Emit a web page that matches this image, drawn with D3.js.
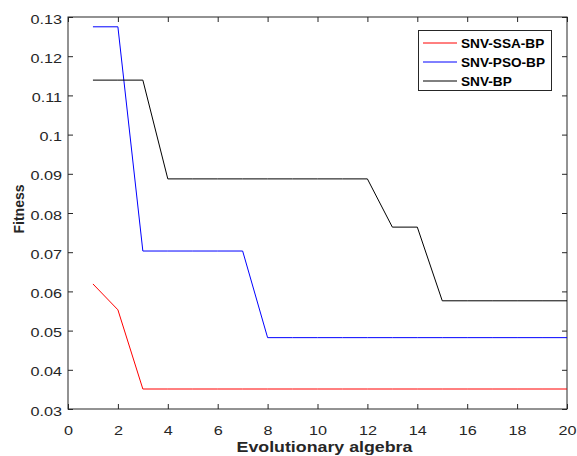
<!DOCTYPE html>
<html><head><meta charset="utf-8">
<script src="https://cdn.jsdelivr.net/npm/d3@7"></script>
<style>body{margin:0;background:#fff;} svg{display:block;}</style>
</head><body>
<svg id="chart" width="577" height="456"></svg>
<script>
const generations = [1,2,3,4,5,6,7,8,9,10,11,12,13,14,15,16,17,18,19,20];
const ssaBP = [0.0619,0.0553,0.0351,0.0351,0.0351,0.0351,0.0351,0.0351,0.0351,0.0351,0.0351,0.0351,0.0351,0.0351,0.0351,0.0351,0.0351,0.0351,0.0351,0.0351];
const psoBP = [0.1275,0.1275,0.0703,0.0703,0.0703,0.0703,0.0703,0.0482,0.0482,0.0482,0.0482,0.0482,0.0482,0.0482,0.0482,0.0482,0.0482,0.0482,0.0482,0.0482];
const bp    = [0.1139,0.1139,0.1139,0.0887,0.0887,0.0887,0.0887,0.0887,0.0887,0.0887,0.0887,0.0887,0.0764,0.0764,0.0576,0.0576,0.0576,0.0576,0.0576,0.0576];
const seriesNames = ["SNV-SSA-BP","SNV-PSO-BP","SNV-BP"];
const seriesColors = ["#ff0000","#0000ff","#000000"];
const xTicks = [0,2,4,6,8,10,12,14,16,18,20];
const yTicks = [0.03,0.04,0.05,0.06,0.07,0.08,0.09,0.1,0.11,0.12,0.13];

const svg = d3.select("#chart");
const L=68, R=567, T=17, B=409;
const x = d3.scaleLinear().domain([0,20]).range([L,R]);
const y = d3.scaleLinear().domain([0.03,0.13]).range([B,T]);
const axisColor = "#262626";
const font = "'Liberation Sans', Arial, sans-serif";

function stretch(sel, factor){
  sel.each(function(){
    const w = this.getComputedTextLength();
    d3.select(this).attr("textLength", w*factor).attr("lengthAdjust","spacingAndGlyphs");
  });
}
function styleAxis(g, showText){
  g.select(".domain").remove();
  g.selectAll("line").attr("stroke", axisColor);
  g.selectAll("text").attr("fill", axisColor).style("font-family", font).style("font-size","13.5px");
  if(!showText) g.selectAll("text").remove();
  else stretch(g.selectAll("text"), 1.2);
}
svg.append("g").attr("transform",`translate(0,${B})`)
  .call(d3.axisBottom(x).tickValues(xTicks).tickSize(-5).tickPadding(16).tickFormat(d3.format("d")))
  .call(g=>styleAxis(g,true));
svg.append("g").attr("transform",`translate(0,${T})`)
  .call(d3.axisTop(x).tickValues(xTicks).tickSize(-5))
  .call(g=>styleAxis(g,false));
const yAxisG = svg.append("g").attr("transform",`translate(${L},0)`)
  .call(d3.axisLeft(y).tickValues(yTicks).tickSize(-5).tickPadding(6).tickFormat(d=>String(+d.toFixed(2))))
  .call(g=>styleAxis(g,true));
yAxisG.selectAll("text").attr("dy","0.45em");
svg.append("g").attr("transform",`translate(${R},0)`)
  .call(d3.axisRight(y).tickValues(yTicks).tickSize(-5))
  .call(g=>styleAxis(g,false));
svg.append("rect").attr("x",L).attr("y",T).attr("width",R-L).attr("height",B-T)
  .attr("fill","none").attr("stroke",axisColor).attr("stroke-width",1);

const data = [ssaBP, psoBP, bp];
const line = d3.line().x((d,i)=>x(generations[i])).y(d=>y(d));
data.forEach((s,k)=>{
  svg.append("path").datum(s).attr("d",line).attr("fill","none")
    .attr("stroke",seriesColors[k]).attr("stroke-width",1);
});

svg.append("text").attr("transform",`translate(23.5,209) rotate(-90)`)
  .attr("text-anchor","middle").style("font-family",font).style("font-size","14px")
  .style("font-weight","bold").attr("fill",axisColor).text("Fitness");
svg.append("text").attr("x",324.5).attr("y",452)
  .attr("text-anchor","middle").style("font-family",font).style("font-size","14px")
  .style("font-weight","bold").attr("fill",axisColor).text("Evolutionary algebra")
  .call(s=>stretch(s, 1.27));

const lg = svg.append("g");
lg.append("rect").attr("x",418.5).attr("y",30.5).attr("width",133).attr("height",60)
  .attr("fill","#fff").attr("stroke",axisColor).attr("stroke-width",1);
seriesNames.forEach((n,k)=>{
  const yy = 43 + k*19;
  lg.append("line").attr("x1",423).attr("x2",457).attr("y1",yy).attr("y2",yy)
    .attr("stroke",seriesColors[k]).attr("stroke-width",1);
  lg.append("text").attr("x",461).attr("y",48 + k*18.9).style("font-family",font)
    .style("font-size","12.5px").style("font-weight","bold").attr("fill","#000").text(n)
    .call(s=>stretch(s, 1.09));
});
</script>
</body></html>
